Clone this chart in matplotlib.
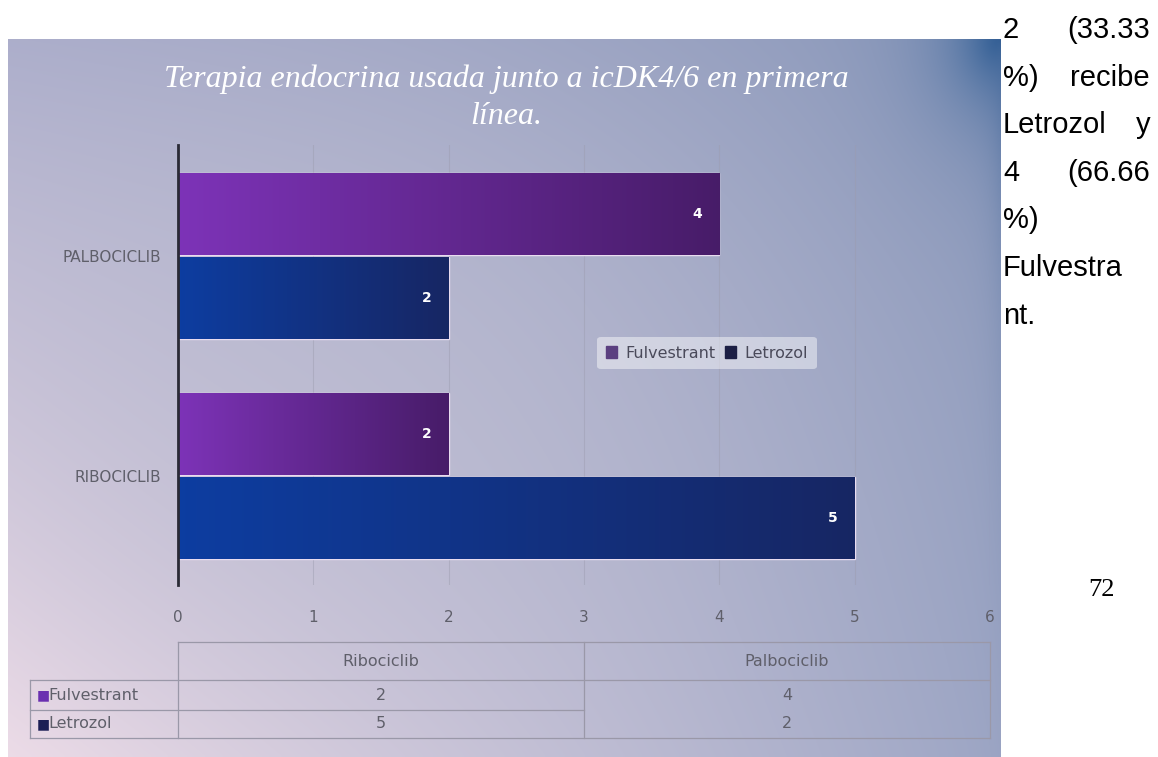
import numpy as np
import matplotlib.pyplot as plt
from matplotlib.transforms import blended_transform_factory
from matplotlib.patches import Patch

W, H = 1158, 757

drugs = ['RIBOCICLIB', 'PALBOCICLIB']
table_cols = ['Ribociclib', 'Palbociclib']
series = ['Fulvestrant', 'Letrozol']
fulvestrant = [2, 4]
letrozol = [5, 2]
x_ticks = [0, 1, 2, 3, 4, 5, 6]

title = 'Terapia endocrina usada junto a icDK4/6 en primera\nlínea.'
side_lines = [('2', '(33.33'), ('%)', 'recibe'), ('Letrozol', 'y'),
              ('4', '(66.66'), ('%)', ''), ('Fulvestra', ''), ('nt.', '')]
page_number = '72'

purple_l, purple_r = (0.49, 0.20, 0.72), (0.28, 0.11, 0.41)
navy_l, navy_r = (0.05, 0.24, 0.63), (0.09, 0.15, 0.39)
grey_txt = '#5f5f6a'
sans = ['DejaVu Sans']


def fx(px):
    return px / W


def fy(py):
    return 1 - py / H


fig = plt.figure(figsize=(W / 100, H / 100), dpi=100, facecolor='white')

# chart panel background
p_left, p_right, p_top = 8, 1001, 39
bg = fig.add_axes([fx(p_left), 0, fx(p_right - p_left), fy(p_top)])
bg.set_axis_off()
nx, ny = 300, 220
u = np.linspace(0, 1, nx)[None, :, None]
v = np.linspace(0, 1, ny)[:, None, None]
tl = np.array([170, 172, 202]) / 255
tr = np.array([138, 152, 186]) / 255
bl = np.array([240, 222, 233]) / 255
br = np.array([156, 165, 196]) / 255
mid = np.array([190, 190, 210]) / 255
img = (1 - v) * ((1 - u) * tl + u * tr) + v * ((1 - u) * bl + u * br)
# lighter middle
cw = np.exp(-(((u - 0.35) / 0.45) ** 2 + ((v - 0.45) / 0.5) ** 2))
img = img * (1 - 0.5 * cw) + mid * 0.5 * cw
# dark blue corner on the top right
px = (1 - u) * (p_right - p_left)
py = v * (H - p_top)
d = np.sqrt(px ** 2 + (py * 0.8) ** 2)
wgt = np.exp(-d / 45.0)
img = img * (1 - wgt) + np.array([38, 88, 145]) / 255 * wgt
edge = np.exp(-px / 14.0) * np.exp(-py / 250.0) * 0.5
img = img * (1 - edge) + np.array([70, 105, 155]) / 255 * edge
bg.imshow(np.clip(img, 0, 1), aspect='auto', extent=[0, 1, 0, 1],
          interpolation='bilinear')
bg.set_xlim(0, 1)
bg.set_ylim(0, 1)

# main bar axes
ax_l, ax_r, ax_t, ax_b = 178, 990, 145, 585
ax = fig.add_axes([fx(ax_l), fy(ax_b), fx(ax_r - ax_l), (ax_b - ax_t) / H])
ax.patch.set_alpha(0)
pos = np.arange(len(drugs))
bh = 0.372
off = 0.19

for vals, offset, cl, cr in [(fulvestrant, off, purple_l, purple_r),
                             (letrozol, -off, navy_l, navy_r)]:
    bars = ax.barh(pos + offset, vals, height=bh, color=cl,
                   edgecolor='#e9dcf0', linewidth=1.0, zorder=3)
    for b, val in zip(bars, vals):
        grad = np.linspace(0, 1, 256)[None, :, None]
        g = (1 - grad) * np.array(cl) + grad * np.array(cr)
        y0 = b.get_y()
        im = ax.imshow(g, aspect='auto', extent=[0, val, y0, y0 + bh],
                       zorder=3.5, interpolation='bilinear')
        im.set_clip_path(b)
        ax.text(val - 0.16, y0 + bh / 2, str(val), color='white',
                fontsize=10, fontweight='bold', ha='center', va='center',
                zorder=5)

ax.set_xlim(0, 6)
ax.set_ylim(-0.495, 1.505)
ax.set_xticks(x_ticks)
ax.set_xticklabels([str(t) for t in x_ticks], color=grey_txt,
                   fontsize=11, family=sans)
ax.tick_params(axis='x', length=0, pad=18)
ax.set_yticks(pos)
ax.set_yticklabels(drugs, color=grey_txt, fontsize=11, family=sans)
ax.tick_params(axis='y', length=0, pad=12)
ax.grid(axis='x', color='#9c9cae', linewidth=0.8, alpha=0.45, zorder=1)
ax.set_axisbelow(True)
for s in ['top', 'right', 'bottom']:
    ax.spines[s].set_visible(False)
ax.spines['left'].set_color('#2a2a35')
ax.spines['left'].set_linewidth(2)
ax.spines['left'].set_zorder(6)

leg = ax.legend(handles=[Patch(color='#5b3f80', label=series[0]),
                         Patch(color='#1c1f45', label=series[1])],
                loc='center', bbox_to_anchor=((707 - ax_l) / (ax_r - ax_l),
                                              (ax_b - 353) / (ax_b - ax_t)),
                ncol=2, frameon=True, handlelength=0.7,
                handleheight=0.7, handletextpad=0.5, columnspacing=0.6,
                borderpad=0.55, prop={'family': sans, 'size': 11.5})
leg.get_frame().set_facecolor('white')
leg.get_frame().set_alpha(0.45)
leg.get_frame().set_edgecolor('none')
for t in leg.get_texts():
    t.set_color('#4a4a5a')

fig.text(fx(506), fy(98), title, ha='center', va='center', color='white',
         fontsize=23, style='italic', family='Liberation Serif',
         linespacing=1.35)

# data table under the axis
tr_x = blended_transform_factory(ax.transData, fig.transFigure)
line_kw = dict(color='#9a98a8', linewidth=0.9, transform=tr_x, clip_on=False)
lab_x = -1.09
fig.add_artist(plt.Line2D([0, 6], [fy(642), fy(642)], **line_kw))
fig.add_artist(plt.Line2D([lab_x, 6], [fy(680), fy(680)], **line_kw))
fig.add_artist(plt.Line2D([lab_x, 3], [fy(710), fy(710)], **line_kw))
fig.add_artist(plt.Line2D([lab_x, 6], [fy(738), fy(738)], **line_kw))
fig.add_artist(plt.Line2D([lab_x, lab_x], [fy(680), fy(738)], **line_kw))
fig.add_artist(plt.Line2D([0, 0], [fy(642), fy(738)], **line_kw))
fig.add_artist(plt.Line2D([3, 3], [fy(642), fy(738)], **line_kw))
fig.add_artist(plt.Line2D([6, 6], [fy(642), fy(738)], **line_kw))

for i, col in enumerate(table_cols):
    xc = 1.5 + 3 * i
    fig.text(xc, fy(661), col, transform=tr_x, ha='center', va='center',
             color=grey_txt, fontsize=11.5, family=sans)
    fig.text(xc, fy(695), str(fulvestrant[i]), transform=tr_x, ha='center',
             va='center', color=grey_txt, fontsize=11.5, family=sans)
    fig.text(xc, fy(724), str(letrozol[i]), transform=tr_x, ha='center',
             va='center', color=grey_txt, fontsize=11.5, family=sans)
for name, yy, c in [(series[0], 695, '#6a2fb0'), (series[1], 724, '#1c1f55')]:
    fig.text(lab_x + 0.045, fy(yy), '\u25a0', transform=tr_x, ha='left',
             va='center', color=c, fontsize=10, family='DejaVu Sans')
    fig.text(lab_x + 0.13, fy(yy), name, transform=tr_x, ha='left',
             va='center', color=grey_txt, fontsize=11.5, family=sans)

# document text on the right
for i, (a, b) in enumerate(side_lines):
    yy = 30 + 47.6 * i
    fig.text(fx(1003), fy(yy), a, ha='left', va='center', color='black',
             fontsize=21, family='Liberation Sans')
    if b:
        fig.text(fx(1150), fy(yy), b, ha='right', va='center', color='black',
                 fontsize=21, family='Liberation Sans')
fig.text(fx(1102), fy(590), page_number, ha='center', va='center',
         color='black', fontsize=19, family='Liberation Serif')

fig.savefig('out.png', dpi=100, facecolor='white')
